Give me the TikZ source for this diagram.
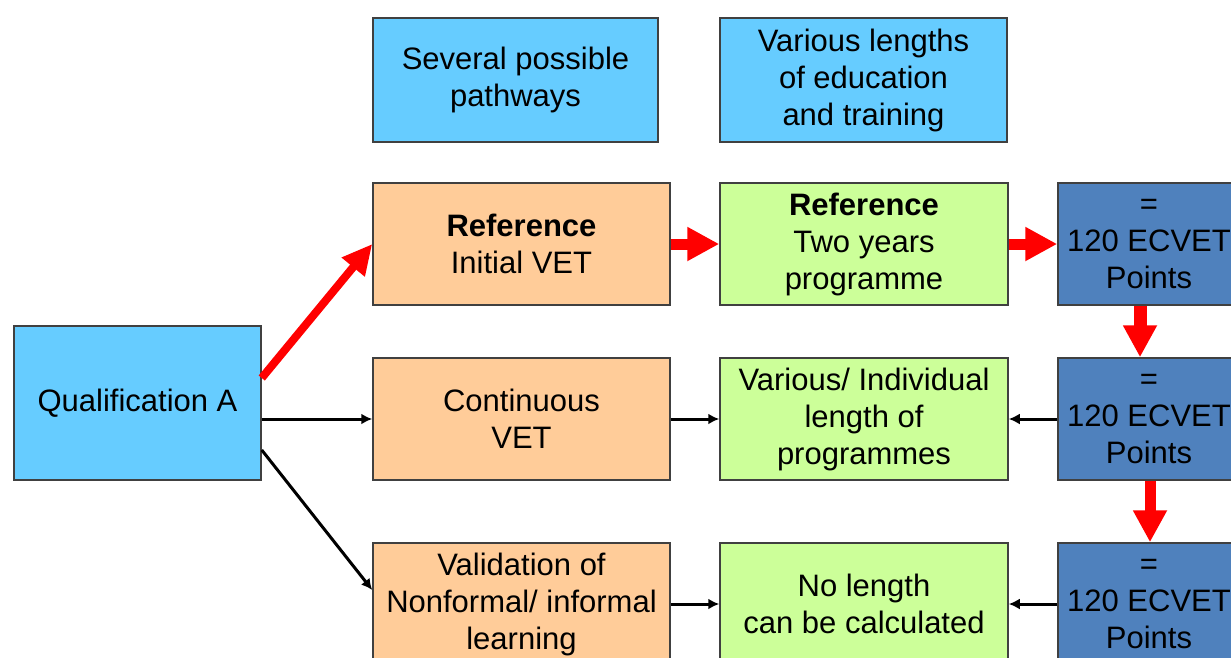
\documentclass[tikz,border=0pt]{standalone}
\usepackage{fontspec}
\setmainfont{Liberation Sans}
\usetikzlibrary{arrows.meta}

\definecolor{skyblue}{RGB}{102,204,255}
\definecolor{peach}{RGB}{255,204,153}
\definecolor{lime}{RGB}{204,255,153}
\definecolor{steel}{RGB}{79,129,189}

\begin{document}
\begin{tikzpicture}[x=1pt,y=-1pt]

\def \rowa {244}
\def \rowb {419}
\def \rowc {604}

\tikzset{box/.style = {draw=black!75, line width=1.5pt, rectangle, inner sep=0pt, align=center, minimum height=122pt, font=\fontsize{31}{37}\selectfont}}
\tikzset{redarrow/.style = {draw=red, line width=11pt, -{Triangle[length=32pt,width=32pt]}}}
\tikzset{blackarrow/.style = {draw=black, line width=3pt, -{Latex[length=11pt,width=11pt]}}}

\useasboundingbox (0,0) rectangle (1231,657);
\clip (0,0) rectangle (1231,657);

% header boxes
\node[box, fill=skyblue, minimum width=285pt, minimum height=124pt] (paths) at (515.5,80) {Several possible\\pathways};
\node[box, fill=skyblue, minimum width=287pt, minimum height=124pt] (lengths) at (863.5,80) {Various lengths\\of education\\and training};

\node[box, fill=skyblue, minimum width=247pt, minimum height=154pt] (qual) at (137.5,403) {Qualification A};

% pathways
\node[box, fill=peach, minimum width=297pt] (o1) at (521.5,\rowa) {\textbf{Reference}\\Initial VET};
\node[box, fill=peach, minimum width=297pt] (o2) at (521.5,\rowb) {Continuous\\VET};
\node[box, fill=peach, minimum width=297pt] (o3) at (521.5,\rowc) {Validation of\\Nonformal/ informal\\learning};

\node[box, fill=lime, minimum width=288pt] (g1) at (864,\rowa) {\textbf{Reference}\\Two years\\programme};
\node[box, fill=lime, minimum width=288pt] (g2) at (864,\rowb) {Various/ Individual\\length of\\programmes};
\node[box, fill=lime, minimum width=288pt] (g3) at (864,\rowc) {No length\\can be calculated};

\foreach \r/\y in {1/\rowa, 2/\rowb, 3/\rowc}
{
	\node[box, fill=steel, minimum width=182pt] (b\r) at (1149,\y) {=\\120 ECVET\\Points};
}

% connectors
\draw[redarrow, line width=8pt, -{Triangle[length=30pt,width=28pt]}] ([yshift=25pt]qual.east) -- (o1.west);
\draw[redarrow] (o1) -- (g1);
\draw[redarrow] (g1) -- (b1);
\draw[redarrow, line width=13pt] ([xshift=-9pt]b1.south) -- ([xshift=-9pt]b2.north);
\draw[redarrow, line width=11pt] ([xshift=1pt]b2.south) -- ([xshift=1pt]b3.north);

\draw[blackarrow] (qual.east |- o2.west) -- (o2.west);
\draw[blackarrow] ([yshift=-47pt]qual.east) -- ([yshift=14pt]o3.west);

\draw[blackarrow] (o2) -- (g2);
\draw[blackarrow] (b2) -- (g2);
\draw[blackarrow] (o3) -- (g3);
\draw[blackarrow] (b3) -- (g3);

\end{tikzpicture}
\end{document}
